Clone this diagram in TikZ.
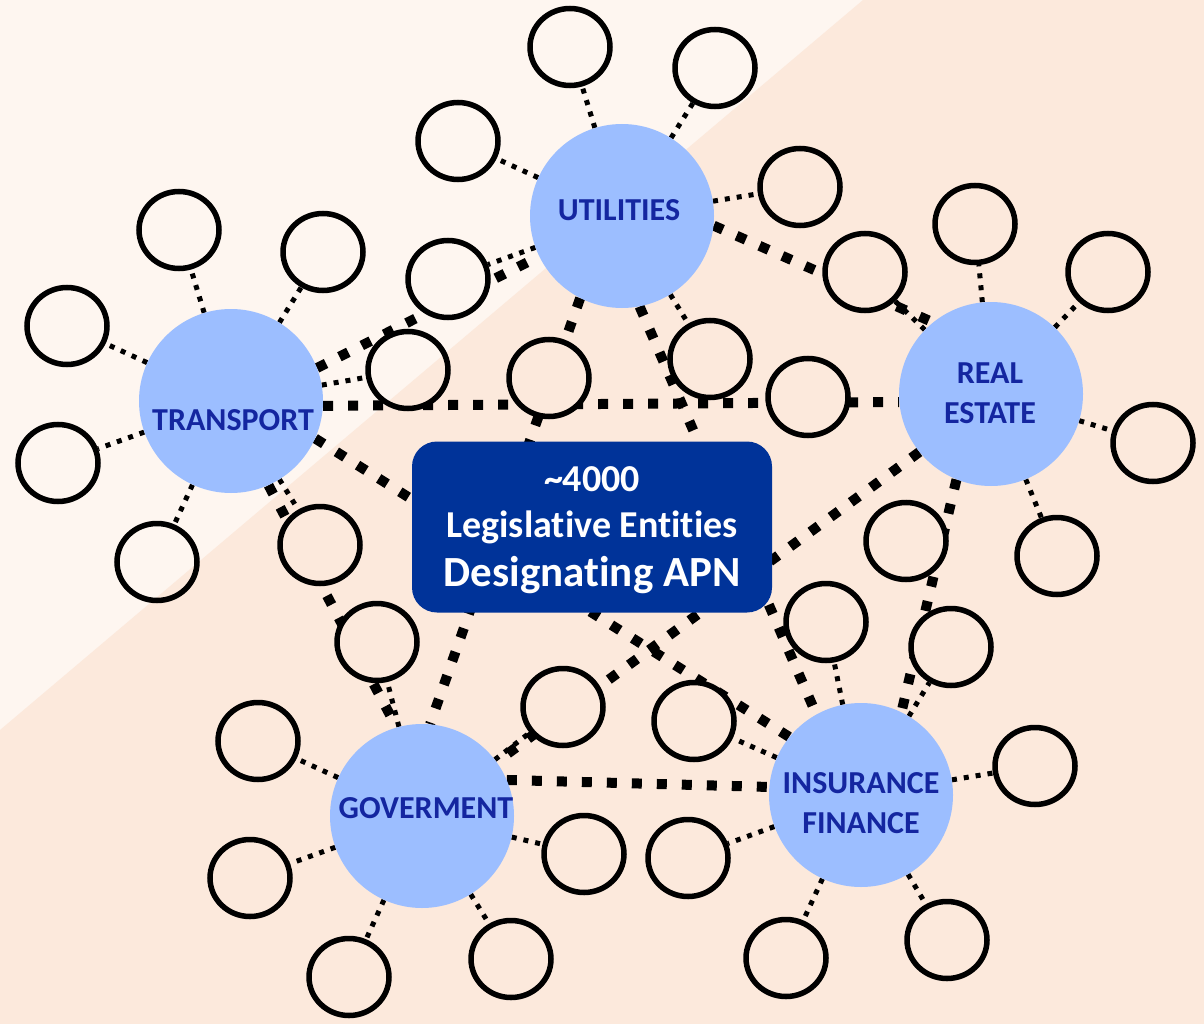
\documentclass[tikz,border=0pt]{standalone}
\usepackage{fontspec}
\setmainfont{Carlito}[Ligatures=NoCommon]
\usetikzlibrary{shapes.geometric}

\definecolor{bglight}{RGB}{254,246,240}
\definecolor{bgdark}{RGB}{252,233,220}
\definecolor{hubblue}{RGB}{156,190,255}
\definecolor{hubtext}{RGB}{20,38,160}
\definecolor{apnblue}{RGB}{0,51,153}

\pgfdeclarelayer{backdrop}
\pgfdeclarelayer{links}
\pgfsetlayers{backdrop,links,main}

\tikzset{
  sat/.style={ellipse, draw=black, line width=5.5pt, fill=bglight,
    minimum width=80pt, minimum height=77pt, inner sep=0pt,
    path picture={\fill[bgdark] (dA) -- (dB) -- (dC) -- (dD) -- (dE) -- cycle;}},
  hub/.style={circle, fill=hubblue, minimum size=184pt, inner sep=0pt},
  hublabel/.style={text=hubtext, font=\bfseries\fontsize{32}{40}\selectfont, align=center, inner sep=0pt},
  apnbox/.style={rounded corners=25pt, fill=apnblue, text=white, minimum width=360pt, minimum height=171pt,
    align=center, inner sep=0pt, font=\bfseries\fontsize{38}{46}\selectfont},
  thinlink/.style={line width=5pt, dash pattern=on 5pt off 7pt},
  thicklink/.style={line width=10pt, dash pattern=on 10pt off 15pt},
}

\begin{document}
\begin{tikzpicture}[x=1pt,y=1pt,yscale=-1]
\useasboundingbox (0,0) rectangle (1204,1024);
\coordinate (dA) at (0,730);
\coordinate (dB) at (863,0);
\coordinate (dC) at (1204,0);
\coordinate (dD) at (1204,1024);
\coordinate (dE) at (0,1024);
\begin{pgfonlayer}{backdrop}
  \fill[bglight] (0,0) rectangle (1204,1024);
  \fill[bgdark] (dA) -- (dB) -- (dC) -- (dD) -- (dE) -- cycle;
\end{pgfonlayer}

% sectors
\node[hub] (util) at (622,216) {};
\node[hub] (trans) at (231,401) {};
\node[hub] (real) at (991,394) {};
\node[hub] (gov) at (422,816) {};
\node[hub] (fin) at (861,795) {};
\node[hublabel] (utiltxt) at (619,210) {UTILITIES};
\node[hublabel] (transtxt) at (233,420) {TRANSPORT};
\node[hublabel] (realtxt) at (990,393) {REAL\\ESTATE};
\node[hublabel] (govtxt) at (426,808) {GOVERMENT};
\node[hublabel] (fintxt) at (861,803) {INSURANCE\\FINANCE};

% centre box
\node[apnbox] (apn) at (592,527) {\rule{0pt}{32pt}\textasciitilde4000\\Legislative Entities\\[3pt]{\fontsize{43}{49}\selectfont Designating APN}};

% entities
\foreach \n/\x/\y in {u1/570/47, u2/715/68, u3/458/141, u4/800/187, u5/865/272, u6/448/279,
  u7/549/378, u8/710/359, u9/808/397,
  t1/179/230, t2/323/252, t3/67/326, t4/58/463, t5/157/562, t6/320/545, t7/408/370,
  r1/975/224, r2/1108/272, r3/1153/443, r4/1057/556, r5/906/541,
  g1/258/741, g2/250/878, g3/377/642, g4/563/707, g5/584/854, g6/349/977, g7/511/959,
  f1/826/622, f2/951/647, f3/694/721, f4/1035/766, f5/688/858, f6/786/958, f7/947/940}
  \node[sat] (\n) at (\x,\y) {};

\begin{pgfonlayer}{links}
  % sector to sector
  \draw[thicklink] (trans.21) -- (util.206);
  \draw[thicklink] (util.354) -- (real.129);
  \draw[thicklink] (util.243) -- (gov.85);
  \draw[thicklink] (util.281) -- (fin.119);
  \draw[thicklink] (trans.357) -- (real.185);
  \draw[thicklink] (trans.336) -- (fin.141);
  \draw[thicklink] (trans.294) -- (gov.106);
  \draw[thicklink] (real.219) -- (gov.36);
  \draw[thicklink] (real.248) -- (fin.64);
  \draw[thicklink] (gov.23) -- (fin.175);
  % sector to entity
  \foreach \s in {u1,u2,u3,u4,u6,u8} \draw[thinlink] (util) -- (\s);
  \foreach \s in {t1,t2,t3,t4,t5,t6,t7} \draw[thinlink] (trans) -- (\s);
  \foreach \s in {u5,r1,r2,r3,r4} \draw[thinlink] (real) -- (\s);
  \foreach \s in {g1,g2,g3,g4,g5,g6,g7} \draw[thinlink] (gov) -- (\s);
  \foreach \s in {f1,f2,f3,f4,f5,f6,f7} \draw[thinlink] (fin) -- (\s);
\end{pgfonlayer}
\end{tikzpicture}
\end{document}
